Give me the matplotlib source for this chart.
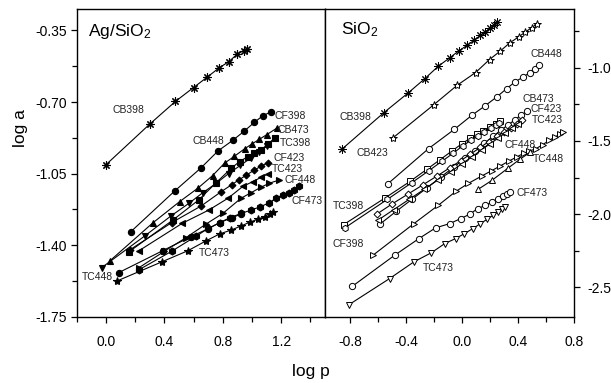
"""
Adsorption isotherms, log a vs log p, for Ag/SiO2 and SiO2.
"""

import matplotlib
matplotlib.use("Agg")
import matplotlib.pyplot as plt
from matplotlib.ticker import FormatStrFormatter, MultipleLocator


plt.rcParams["font.family"] = ["Liberation Sans", "DejaVu Sans"]
plt.rcParams["mathtext.default"] = "regular"
plt.rcParams["axes.unicode_minus"] = False

# ---- Ag/SiO2 (left panel, filled markers) ----
ag_cb398_x = [0.0, 0.30, 0.476, 0.60, 0.694, 0.773, 0.842, 0.899, 0.944, 0.965]
ag_cb398_y = [-1.007, -0.808, -0.697, -0.629, -0.578, -0.534, -0.502, -0.466, -0.448, -0.440]

ag_cf398_x = [0.171, 0.471, 0.648, 0.768, 0.867, 0.944, 1.017, 1.074, 1.131]
ag_cf398_y = [-1.334, -1.135, -1.024, -0.939, -0.888, -0.844, -0.799, -0.767, -0.748]

ag_cb473_x = [0.027, 0.323, 0.505, 0.630, 0.730, 0.812, 0.880, 0.949, 1.000, 1.051, 1.100, 1.169]
ag_cb473_y = [-1.477, -1.290, -1.187, -1.121, -1.060, -0.999, -0.965, -0.929, -0.905, -0.882, -0.860, -0.828]

ag_tc398_x = [0.159, 0.459, 0.635, 0.751, 0.858, 0.915, 0.972, 1.017, 1.063, 1.110, 1.154]
ag_tc398_y = [-1.432, -1.277, -1.179, -1.097, -1.024, -0.991, -0.967, -0.950, -0.934, -0.905, -0.877]

ag_tc448_x = [-0.029, 0.266, 0.444, 0.569, 0.664, 0.756, 0.840, 0.920, 0.990, 1.050, 1.100]
ag_tc448_y = [-1.510, -1.355, -1.258, -1.195, -1.143, -1.097, -1.050, -1.010, -0.975, -0.945, -0.915]

ag_cf423_x = [0.164, 0.450, 0.653, 0.790, 0.860, 0.910, 0.960, 1.017, 1.060, 1.108]
ag_cf423_y = [-1.423, -1.290, -1.208, -1.138, -1.105, -1.081, -1.058, -1.032, -1.015, -0.996]

ag_tc423_x = [0.227, 0.523, 0.705, 0.835, 0.937, 1.006, 1.063, 1.108]
ag_tc423_y = [-1.427, -1.293, -1.228, -1.171, -1.113, -1.089, -1.068, -1.052]

ag_cf448_x = [0.227, 0.400, 0.545, 0.687, 0.800, 0.926, 0.995, 1.063, 1.119, 1.188]
ag_cf448_y = [-1.510, -1.430, -1.365, -1.296, -1.245, -1.170, -1.143, -1.116, -1.097, -1.081]

ag_cf473_x = [0.227, 0.450, 0.620, 0.700, 0.780, 0.850, 0.926, 0.995, 1.058, 1.119, 1.165, 1.210, 1.256, 1.290, 1.324]
ag_cf473_y = [-1.520, -1.430, -1.355, -1.318, -1.290, -1.265, -1.245, -1.228, -1.212, -1.192, -1.170, -1.154, -1.143, -1.128, -1.113]

ag_cb448_x = [0.089, 0.389, 0.583, 0.700, 0.778, 0.865, 0.926]
ag_cb448_y = [-1.534, -1.427, -1.358, -1.320, -1.290, -1.265, -1.248]

ag_tc473_x = [0.077, 0.385, 0.562, 0.688, 0.779, 0.858, 0.926, 0.984, 1.040, 1.086, 1.120, 1.143]
ag_tc473_y = [-1.575, -1.481, -1.427, -1.378, -1.345, -1.326, -1.306, -1.288, -1.273, -1.260, -1.247, -1.239]

# ---- SiO2 (right panel, open markers) ----
si_cb398_x = [-0.861, -0.559, -0.386, -0.266, -0.171, -0.090, -0.024, 0.036, 0.084, 0.131, 0.167, 0.203, 0.226, 0.250]
si_cb398_y = [-1.558, -1.307, -1.173, -1.075, -0.991, -0.934, -0.886, -0.848, -0.814, -0.780, -0.756, -0.727, -0.711, -0.688]

si_cb423_x = [-0.495, -0.202, -0.036, 0.096, 0.196, 0.274, 0.341, 0.405, 0.453, 0.500, 0.536]
si_cb423_y = [-1.480, -1.253, -1.121, -1.034, -0.945, -0.886, -0.831, -0.790, -0.756, -0.727, -0.700]

si_cb448_x = [-0.530, -0.240, -0.055, 0.069, 0.164, 0.248, 0.319, 0.378, 0.438, 0.485, 0.521, 0.552]
si_cb448_y = [-1.792, -1.553, -1.421, -1.326, -1.261, -1.200, -1.143, -1.098, -1.063, -1.034, -1.007, -0.980]

si_tc398_x = [-0.848, -0.550, -0.371, -0.252, -0.157, -0.074, -0.002, 0.057, 0.105, 0.152, 0.200, 0.243, 0.271]
si_tc398_y = [-2.072, -1.889, -1.776, -1.694, -1.628, -1.570, -1.520, -1.483, -1.456, -1.430, -1.405, -1.382, -1.365]

si_cf398_x = [-0.836, -0.534, -0.359, -0.240, -0.145, -0.065, 0.007, 0.065, 0.115, 0.160, 0.205, 0.245, 0.265]
si_cf398_y = [-2.092, -1.899, -1.785, -1.705, -1.640, -1.585, -1.532, -1.495, -1.467, -1.440, -1.415, -1.393, -1.380]

si_cb473_x = [-0.590, -0.470, -0.360, -0.250, -0.150, -0.060, 0.020, 0.090, 0.160, 0.220, 0.280, 0.330, 0.380, 0.420, 0.466]
si_cb473_y = [-2.070, -1.980, -1.900, -1.820, -1.745, -1.680, -1.620, -1.570, -1.515, -1.470, -1.425, -1.390, -1.355, -1.325, -1.298]

si_cf423_x = [-0.610, -0.500, -0.390, -0.280, -0.180, -0.090, -0.010, 0.060, 0.130, 0.190, 0.250, 0.300, 0.350, 0.390, 0.426]
si_cf423_y = [-2.000, -1.930, -1.865, -1.800, -1.740, -1.685, -1.635, -1.590, -1.545, -1.505, -1.470, -1.440, -1.410, -1.383, -1.360]

si_tc423_x = [-0.600, -0.490, -0.380, -0.270, -0.170, -0.080, 0.000, 0.070, 0.140, 0.200, 0.260, 0.310, 0.360, 0.400]
si_tc423_y = [-2.040, -1.970, -1.900, -1.830, -1.765, -1.710, -1.655, -1.610, -1.560, -1.520, -1.480, -1.445, -1.410, -1.382]

si_cf448_x = [-0.638, -0.345, -0.171, -0.045, 0.045, 0.140, 0.212, 0.271, 0.338, 0.390, 0.440, 0.480, 0.529, 0.576, 0.624, 0.664, 0.700, 0.724]
si_cf448_y = [-2.281, -2.065, -1.940, -1.845, -1.790, -1.740, -1.703, -1.672, -1.636, -1.610, -1.585, -1.570, -1.553, -1.526, -1.496, -1.473, -1.455, -1.439]

si_tc448_x = [0.116, 0.214, 0.330, 0.414, 0.486]
si_tc448_y = [-1.830, -1.769, -1.685, -1.625, -1.578]

si_cf473_x = [-0.786, -0.483, -0.309, -0.190, -0.090, -0.011, 0.053, 0.112, 0.167, 0.214, 0.255, 0.291, 0.321, 0.341]
si_cf473_y = [-2.493, -2.281, -2.167, -2.094, -2.065, -2.031, -2.001, -1.962, -1.940, -1.917, -1.894, -1.876, -1.860, -1.848]

si_tc473_x = [-0.809, -0.519, -0.345, -0.219, -0.124, -0.047, 0.017, 0.076, 0.131, 0.179, 0.221, 0.257, 0.286, 0.310]
si_tc473_y = [-2.618, -2.440, -2.326, -2.263, -2.201, -2.167, -2.133, -2.099, -2.065, -2.035, -2.008, -1.985, -1.967, -1.951]

ASTERISK = (8, 2, 0)

left_series = [
    (ag_cb398_x, ag_cb398_y, ASTERISK, 6),
    (ag_cf398_x, ag_cf398_y, "o", 4.5),
    (ag_cb473_x, ag_cb473_y, "^", 5),
    (ag_tc398_x, ag_tc398_y, "s", 4),
    (ag_tc448_x, ag_tc448_y, "v", 5),
    (ag_cf423_x, ag_cf423_y, "D", 3.5),
    (ag_tc423_x, ag_tc423_y, "<", 5),
    (ag_cf448_x, ag_cf448_y, ">", 5),
    (ag_cf473_x, ag_cf473_y, "h", 5),
    (ag_cb448_x, ag_cb448_y, "o", 4.5),
    (ag_tc473_x, ag_tc473_y, "*", 6),
]

right_series = [
    (si_cb398_x, si_cb398_y, ASTERISK, 6, "black"),
    (si_cb423_x, si_cb423_y, "*", 6, "white"),
    (si_cb448_x, si_cb448_y, "o", 4.5, "white"),
    (si_tc398_x, si_tc398_y, "s", 4, "white"),
    (si_cf398_x, si_cf398_y, "h", 4.5, "white"),
    (si_cb473_x, si_cb473_y, "o", 4.5, "white"),
    (si_cf423_x, si_cf423_y, "D", 3.5, "white"),
    (si_tc423_x, si_tc423_y, "<", 4.5, "white"),
    (si_cf448_x, si_cf448_y, ">", 4.5, "white"),
    (si_tc448_x, si_tc448_y, "^", 4.5, "white"),
    (si_cf473_x, si_cf473_y, "o", 4.5, "white"),
    (si_tc473_x, si_tc473_y, "v", 4.5, "white"),
]

left_labels = [
    ("CB398", 0.046, -0.738, "left"),
    ("CB448", 0.596, -0.893, "left"),
    ("CF398", 1.154, -0.767, "left"),
    ("CB473", 1.177, -0.836, "left"),
    ("TC398", 1.188, -0.898, "left"),
    ("CF423", 1.148, -0.975, "left"),
    ("TC423", 1.139, -1.028, "left"),
    ("CF448", 1.223, -1.081, "left"),
    ("CF473", 1.268, -1.182, "left"),
    ("TC448", 0.050, -1.557, "right"),
    ("TC473", 0.637, -1.437, "left"),
]

right_labels = [
    ("CB398", -0.876, -1.337),
    ("CB423", -0.752, -1.580),
    ("CB448", 0.486, -0.904),
    ("CB473", 0.434, -1.212),
    ("CF423", 0.486, -1.285),
    ("TC423", 0.498, -1.360),
    ("CF448", 0.300, -1.530),
    ("TC448", 0.509, -1.626),
    ("CF473", 0.386, -1.853),
    ("TC398", -0.924, -1.944),
    ("CF398", -0.924, -2.201),
    ("TC473", -0.281, -2.367),
]


def style_axis(ax):
    for sp in ax.spines.values():
        sp.set_linewidth(1.0)
    ax.tick_params(which="major", direction="out", length=4, width=0.9, labelsize=10)
    ax.tick_params(which="minor", direction="out", length=3.5, width=0.9)
    ax.tick_params(axis="x", which="major", pad=9)


fig = plt.figure(figsize=(6.11, 3.83), dpi=100)
ax1 = fig.add_axes([0.1255, 0.1731, 0.4065, 0.8034])
ax2 = fig.add_axes([0.5320, 0.1731, 0.4074, 0.8034])

for x, y, m, ms in left_series:
    ax1.plot(x, y, color="black", linewidth=0.8, marker=m, markersize=ms,
             markerfacecolor="black", markeredgecolor="black", markeredgewidth=0.8)
for x, y, m, ms, fc in right_series:
    ax2.plot(x, y, color="black", linewidth=0.8, marker=m, markersize=ms,
             markerfacecolor=fc, markeredgecolor="black", markeredgewidth=0.7)

for txt, x, y, ha in left_labels:
    ax1.text(x, y, txt, fontsize=7.5, ha=ha, va="center", color="#222222")
for txt, x, y in right_labels:
    ax2.text(x, y, txt, fontsize=7.5, ha="left", va="center", color="#222222")

ax1.text(0.045, 0.928, "Ag/SiO$_2$", transform=ax1.transAxes, fontsize=12.5, va="center")
ax2.text(0.066, 0.932, "SiO$_2$", transform=ax2.transAxes, fontsize=12.5, va="center")

# left panel axes
ax1.set_xlim(-0.2, 1.5)
ax1.set_ylim(-1.75, -0.245)
ax1.xaxis.set_major_locator(MultipleLocator(0.4))
ax1.xaxis.set_minor_locator(MultipleLocator(0.2))
ax1.yaxis.set_major_locator(MultipleLocator(0.35))
ax1.yaxis.set_minor_locator(MultipleLocator(0.175))
ax1.xaxis.set_major_formatter(FormatStrFormatter("%.1f"))
ax1.yaxis.set_major_formatter(FormatStrFormatter("%.2f"))
style_axis(ax1)
ax1.tick_params(axis="y", which="major", pad=3)

# right panel axes
ax2.set_xlim(-0.98, 0.8)
ax2.set_ylim(-2.7, -0.6)
ax2.xaxis.set_major_locator(MultipleLocator(0.4))
ax2.xaxis.set_minor_locator(MultipleLocator(0.2))
ax2.yaxis.set_major_locator(MultipleLocator(0.5))
ax2.yaxis.set_minor_locator(MultipleLocator(0.25))
ax2.xaxis.set_major_formatter(FormatStrFormatter("%.1f"))
ax2.yaxis.set_major_formatter(FormatStrFormatter("%.1f"))
ax2.yaxis.tick_right()
style_axis(ax2)
ax2.tick_params(axis="y", which="major", pad=6)

fig.text(0.509, 0.031, "log p", fontsize=12.5, ha="center", va="center")
fig.text(0.033, 0.665, "log a", fontsize=12.5, ha="center", va="center", rotation=90)

fig.savefig("out.png", dpi=100)
plt.close(fig)
